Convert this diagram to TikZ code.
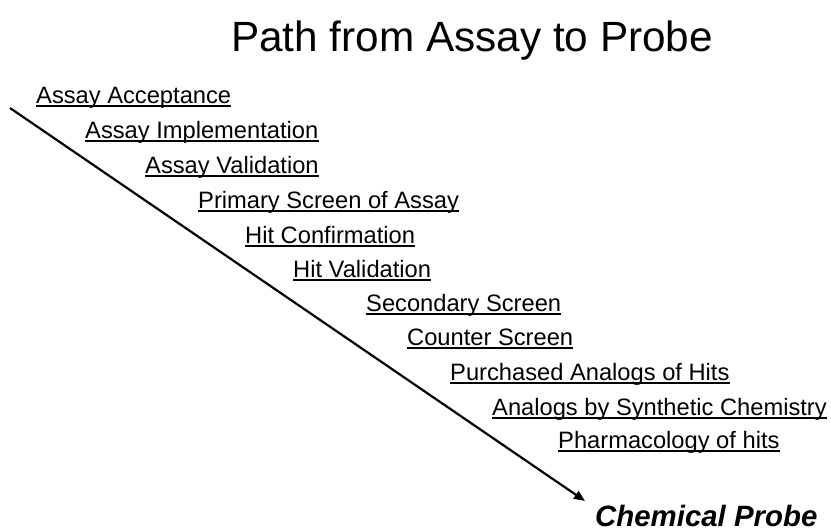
\documentclass[tikz,border=0pt]{standalone}
\usepackage{fontspec}
\setmainfont{Liberation Sans}
\usetikzlibrary{arrows.meta}
\begin{document}
\begin{tikzpicture}[x=1pt,y=-1pt,
  stepitem/.style={anchor=base west,inner sep=0pt,font=\fontsize{23.7}{28}\selectfont},
  ul/.style={line width=1.4pt},
  mainarrow/.style={line width=2.2pt,-{Triangle[length=11pt,width=9pt]}}]
\useasboundingbox (0,0) rectangle (831,531);
\node[anchor=base,inner sep=0pt,font=\fontsize{42.3}{50}\selectfont] (title) at (472,51) {Path from Assay to Probe};
\foreach \n/\x/\y/\t in {
  s1/36/103/{Assay Acceptance},
  s2/85/138/{Assay Implementation},
  s3/145/173/{Assay Validation},
  s4/198/208/{Primary Screen of Assay},
  s5/245/243/{Hit Confirmation},
  s6/293/277/{Hit Validation},
  s7/366/311/{Secondary Screen},
  s8/407/345/{Counter Screen},
  s9/450/380/{Purchased Analogs of Hits},
  s10/492/415/{Analogs by Synthetic Chemistry},
  s11/558/448/{Pharmacology of hits}}{
  \node[stepitem] (\n) at (\x,\y) {\t};
  \draw[ul] ([yshift=-3pt]\n.base west) -- ([yshift=-3pt]\n.base east);
}
\node[anchor=base west,inner sep=0pt,font=\fontsize{29.4}{34}\selectfont\bfseries\itshape] (probe) at (595,526) {Chemical Probe};
\coordinate (start) at (10,108);
\coordinate (end) at (585,501);
\draw[mainarrow] (start) -- (end);
\end{tikzpicture}
\end{document}
